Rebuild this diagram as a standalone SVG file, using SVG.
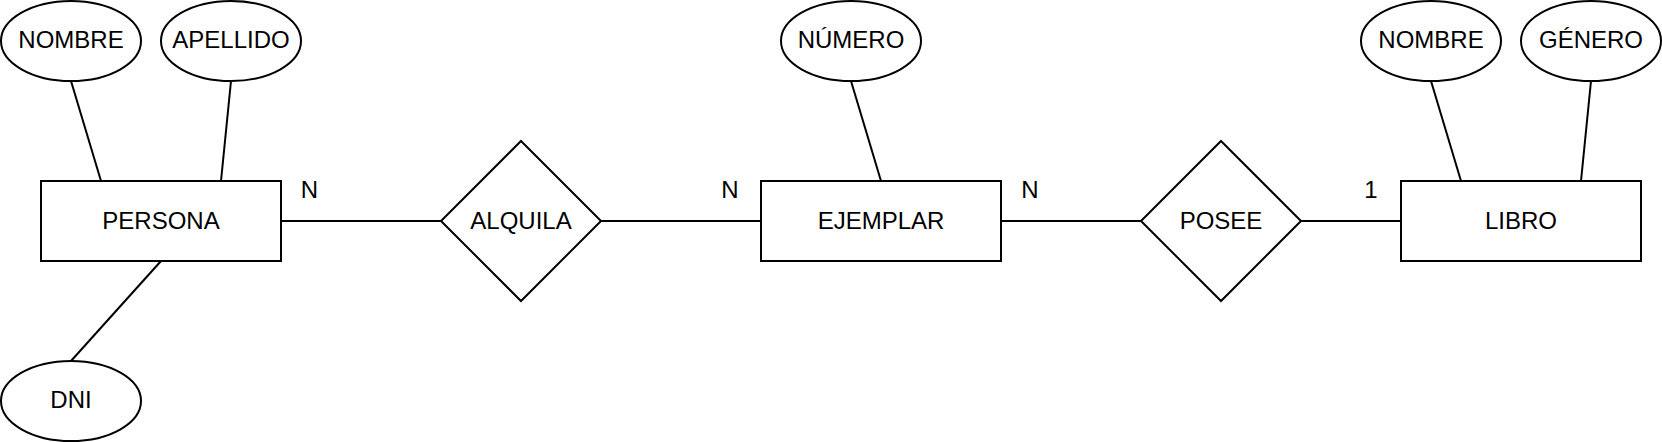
<svg xmlns="http://www.w3.org/2000/svg" width="1662" height="442" viewBox="0 0 1662 442">
<style>
.shape{fill:#fff;stroke:#000;stroke-width:2}
.lbl{font-family:"Liberation Sans",Arial,Helvetica,sans-serif;font-size:24px;fill:#000;text-anchor:middle}
.card{font-family:"Liberation Sans",Arial,Helvetica,sans-serif;font-size:24px;fill:#000;text-anchor:middle}
.edge{stroke:#000;stroke-width:2;fill:none}
</style>
<rect width="1662" height="442" fill="#fff"/>
<g id="connectors">
<line class="edge" x1="71" y1="81" x2="101" y2="181"/>
<line class="edge" x1="231" y1="81" x2="221" y2="181"/>
<line class="edge" x1="161" y1="261" x2="71" y2="361"/>
<line class="edge" x1="281" y1="221" x2="441" y2="221"/>
<line class="edge" x1="601" y1="221" x2="761" y2="221"/>
<line class="edge" x1="851" y1="81" x2="881" y2="181"/>
<line class="edge" x1="1001" y1="221" x2="1141" y2="221"/>
<line class="edge" x1="1301" y1="221" x2="1401" y2="221"/>
<line class="edge" x1="1431" y1="81" x2="1461" y2="181"/>
<line class="edge" x1="1591" y1="81" x2="1581" y2="181"/>
<text class="card" x="309.5" y="198">N</text>
<text class="card" x="730" y="198">N</text>
<text class="card" x="1030" y="198">N</text>
<text class="card" x="1371" y="198">1</text>
</g>
<g id="persona"><rect class="shape" x="41" y="181" width="240" height="80"/><text class="lbl" x="161" y="228.5">PERSONA</text></g>
<g id="nombre1"><ellipse class="shape" cx="71" cy="41" rx="70" ry="40"/><text class="lbl" x="71" y="48">NOMBRE</text></g>
<g id="apellido"><ellipse class="shape" cx="231" cy="41" rx="70" ry="40"/><text class="lbl" x="231" y="48">APELLIDO</text></g>
<g id="dni"><ellipse class="shape" cx="71" cy="401" rx="70" ry="40"/><text class="lbl" x="71" y="408">DNI</text></g>
<g id="alquila"><polygon class="shape" points="521,141 601,221 521,301 441,221"/><text class="lbl" x="521" y="228.5">ALQUILA</text></g>
<g id="ejemplar"><rect class="shape" x="761" y="181" width="240" height="80"/><text class="lbl" x="881" y="228.5">EJEMPLAR</text></g>
<g id="numero"><ellipse class="shape" cx="851" cy="41" rx="70" ry="40"/><text class="lbl" x="851" y="48">NÚMERO</text></g>
<g id="posee"><polygon class="shape" points="1221,141 1301,221 1221,301 1141,221"/><text class="lbl" x="1221" y="228.5">POSEE</text></g>
<g id="libro"><rect class="shape" x="1401" y="181" width="240" height="80"/><text class="lbl" x="1521" y="228.5">LIBRO</text></g>
<g id="nombre2"><ellipse class="shape" cx="1431" cy="41" rx="70" ry="40"/><text class="lbl" x="1431" y="48">NOMBRE</text></g>
<g id="genero"><ellipse class="shape" cx="1591" cy="41" rx="70" ry="40"/><text class="lbl" x="1591" y="48">GÉNERO</text></g>
</svg>
